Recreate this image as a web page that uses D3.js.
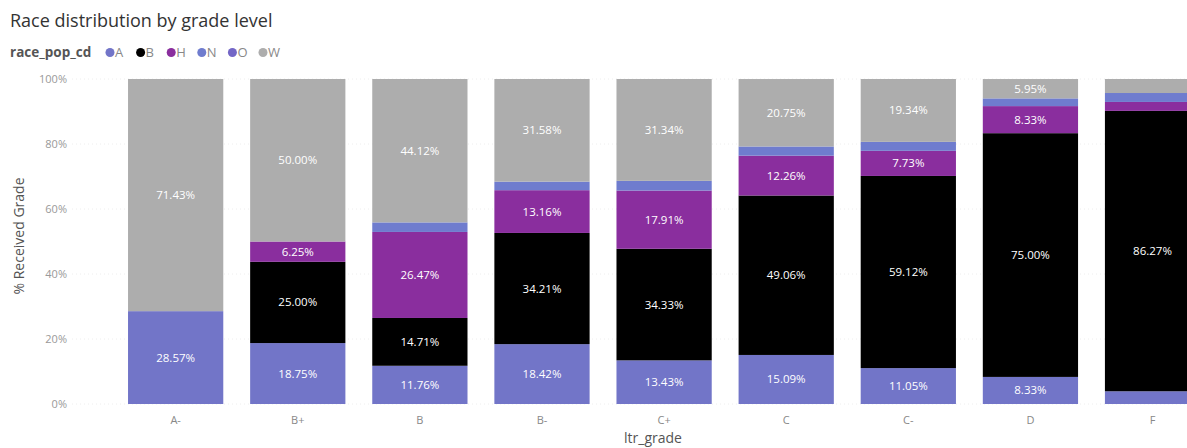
<!DOCTYPE html>
<html>
<head>
<meta charset="utf-8">
<script src="https://cdn.jsdelivr.net/npm/d3@7"></script>
<style>
  html, body { margin: 0; padding: 0; background: #fff; }
  svg { display: block; font-family: "Open Sans", "Noto Sans", sans-serif; }
</style>
</head>
<body>
<svg id="chart" width="1187" height="448"></svg>
<script>
// Grade categories along the x axis
const grades = ["A-", "B+", "B", "B-", "C+", "C", "C-", "D", "F"];

// Share of each race code per grade (percent)
const seriesA = [28.57, 18.75, 11.76, 18.42, 13.43, 15.09, 11.05, 8.33, 3.92];
const seriesB = [0, 25.00, 14.71, 34.21, 34.33, 49.06, 59.12, 75.00, 86.27];
const seriesH = [0, 6.25, 26.47, 13.16, 17.91, 12.26, 7.73, 8.33, 2.75];
const seriesN = [0, 0, 2.94, 2.63, 2.99, 2.83, 2.76, 2.38, 2.75];
const seriesO = [0, 0, 0, 0, 0, 0, 0, 0, 0];
const seriesW = [71.43, 50.00, 44.12, 31.58, 31.34, 20.75, 19.34, 5.95, 4.31];

const raceKeys = ["A", "B", "H", "N", "O", "W"];
const yTicks = [0, 20, 40, 60, 80, 100];

const colors = {
  A: "#7275c8",
  B: "#000000",
  H: "#8a2e9e",
  N: "#6f7cce",
  O: "#7366c6",
  W: "#adadad"
};

const valuesByKey = { A: seriesA, B: seriesB, H: seriesH, N: seriesN, O: seriesO, W: seriesW };
const rows = grades.map((g, i) => {
  const r = { grade: g };
  raceKeys.forEach(k => { r[k] = valuesByKey[k][i]; });
  return r;
});

const svg = d3.select("#chart");

const x = d3.scaleBand()
  .domain(grades)
  .range([114.6, 1213.6])
  .paddingInner(0.22)
  .paddingOuter(0.11);

const y = d3.scaleLinear().domain([0, 100]).range([404, 79]);

// Title
svg.append("text")
  .attr("x", 10).attr("y", 27)
  .attr("font-size", 18)
  .attr("fill", "#333")
  .text("Race distribution by grade level");

// Legend
const legend = svg.append("g");
legend.append("text")
  .attr("x", 10).attr("y", 57)
  .attr("font-size", 13.5).attr("font-weight", "bold")
  .attr("fill", "#555")
  .text("race_pop_cd");
raceKeys.forEach((k, i) => {
  const cx = 110 + i * 30.6;
  legend.append("circle").attr("cx", cx).attr("cy", 52.5).attr("r", 4.5).attr("fill", colors[k]);
  legend.append("text")
    .attr("x", cx + 5).attr("y", 57)
    .attr("font-size", 13).attr("fill", "#888")
    .text(k);
});

// Gridlines and y tick labels
const yAxis = svg.append("g");
yTicks.forEach(t => {
  yAxis.append("line")
    .attr("x1", 72).attr("x2", 1187)
    .attr("y1", y(t)).attr("y2", y(t))
    .attr("stroke", "#eeeeee").attr("stroke-dasharray", "1,3");
  yAxis.append("text")
    .attr("x", 67).attr("y", y(t) + 4)
    .attr("text-anchor", "end")
    .attr("font-size", 11).attr("fill", "#999")
    .text(t + "%");
});

// Y axis title
svg.append("text")
  .attr("transform", "translate(24,236) rotate(-90)")
  .attr("text-anchor", "middle")
  .attr("font-size", 14).attr("fill", "#555")
  .text("% Received Grade");

// Stacked bars
const stacked = d3.stack().keys(raceKeys)(rows);
const layers = svg.append("g").selectAll("g")
  .data(stacked)
  .join("g")
  .attr("fill", d => colors[d.key]);

layers.selectAll("rect")
  .data(d => d.map(s => ({ s, key: d.key })))
  .join("rect")
  .attr("x", d => x(d.s.data.grade))
  .attr("width", x.bandwidth())
  .attr("y", d => y(d.s[1]))
  .attr("height", d => y(d.s[0]) - y(d.s[1]));

// Value labels for segments large enough to hold them
const labels = svg.append("g");
stacked.forEach(layer => {
  layer.forEach(s => {
    const v = s[1] - s[0];
    if (v < 5) return;
    labels.append("text")
      .attr("x", x(s.data.grade) + x.bandwidth() / 2)
      .attr("y", y((s[0] + s[1]) / 2) + 4)
      .attr("text-anchor", "middle")
      .attr("font-size", 11.5)
      .attr("fill", "#fff")
      .text(s.data[layer.key].toFixed(2) + "%");
  });
});

// X tick labels
svg.append("g").selectAll("text")
  .data(grades)
  .join("text")
  .attr("x", d => x(d) + x.bandwidth() / 2)
  .attr("y", 424)
  .attr("text-anchor", "middle")
  .attr("font-size", 11).attr("fill", "#888")
  .text(d => d);

// X axis title
svg.append("text")
  .attr("x", 653).attr("y", 443)
  .attr("text-anchor", "middle")
  .attr("font-size", 14).attr("fill", "#555")
  .text("ltr_grade");
</script>
</body>
</html>
